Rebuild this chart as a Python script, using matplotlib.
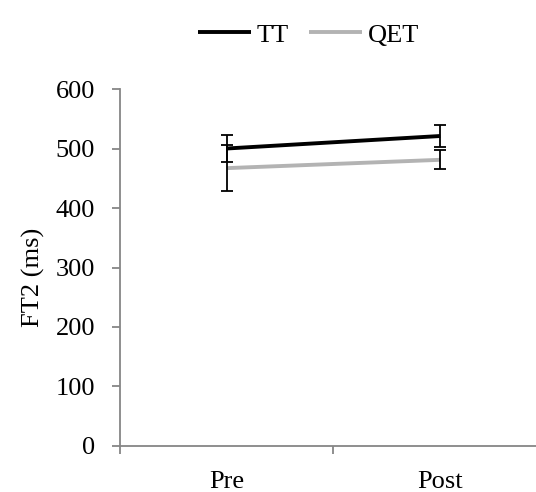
from matplotlib import pyplot as plt
import numpy as np

phases = ['Pre', 'Post']
tt_mean = [500, 521]
tt_err = [22, 19]
qet_mean = [467, 481]
qet_err = [39, 16]
yticks = [0, 100, 200, 300, 400, 500, 600]

plt.rcParams['font.family'] = 'Liberation Serif'
plt.rcParams['font.size'] = 19

fig = plt.figure(figsize=(5.36, 4.92), dpi=100)
ax = fig.add_axes([0.2239, 0.0935, 0.7966, 0.7256])

x = np.arange(len(phases))
ax.plot(x, tt_mean, color='black', lw=2.8, label='TT', solid_capstyle='butt')
ax.plot(x, qet_mean, color='#b3b3b3', lw=2.8, label='QET', solid_capstyle='butt')
ax.errorbar(x, tt_mean, yerr=tt_err, fmt='none', ecolor='black', elinewidth=1.3,
            capsize=4.4, capthick=1.3)
ax.errorbar(x, qet_mean, yerr=qet_err, fmt='none', ecolor='black', elinewidth=1.3,
            capsize=4.4, capthick=1.3)

ax.set_xlim(-0.5, 1.5)
ax.set_ylim(0, 600)
ax.set_yticks(yticks)
ax.set_xticks(x)
ax.set_xticklabels(phases)
ax.set_xticks([-0.5, 0.5, 1.5], minor=True)
ax.tick_params(axis='x', which='major', length=0, pad=18)
ax.tick_params(axis='x', which='minor', length=6, color='#868686', width=1.3)
ax.tick_params(axis='y', length=6, color='#868686', width=1.3, pad=12)
for side in ['top', 'right']:
    ax.spines[side].set_visible(False)
for side in ['left', 'bottom']:
    ax.spines[side].set_color('#868686')
    ax.spines[side].set_linewidth(1.3)
ax.set_ylabel('FT2 (ms)', labelpad=7.5)
ax.yaxis.label.set_y(0.473)

fig.legend(loc='center', bbox_to_anchor=(0.5755, 0.929), ncol=2, frameon=False,
           handlelength=2.0, handletextpad=0.2, columnspacing=0.8)

fig.savefig('out.png', dpi=100)
